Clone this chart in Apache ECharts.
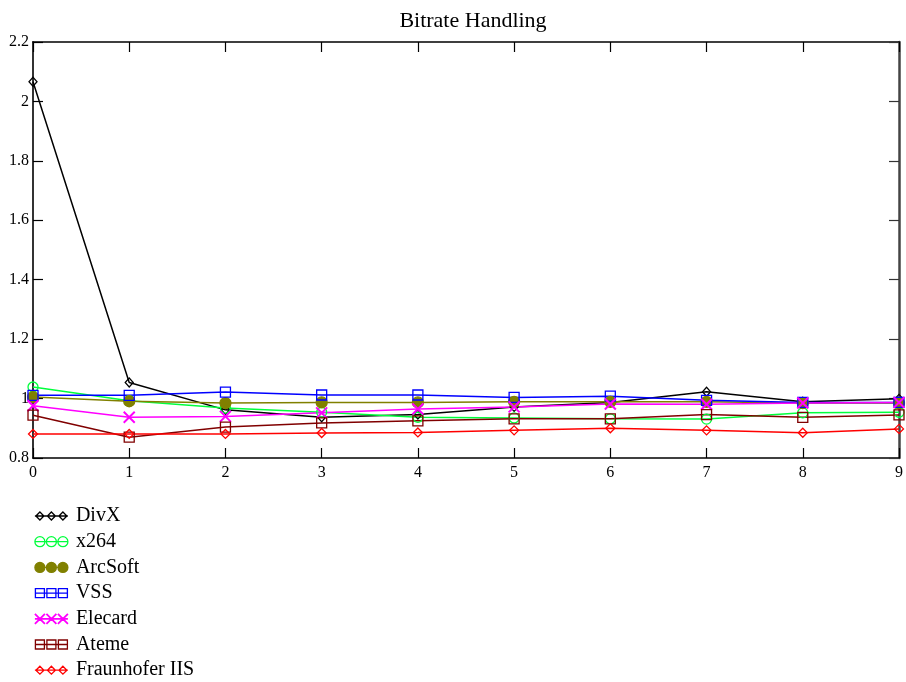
<!DOCTYPE html>
<html>
<head>
<meta charset="utf-8">
<script src="https://cdn.jsdelivr.net/npm/echarts@6/dist/echarts.min.js"></script>
<style>
html,body{margin:0;padding:0;background:#fff;}
#chart{width:906px;height:682px;}
</style>
</head>
<body>
<div id="chart"></div>
<script>
const titleText = 'Bitrate Handling';
const xValues = [0, 1, 2, 3, 4, 5, 6, 7, 8, 9];
const seriesNames = ['DivX', 'x264', 'ArcSoft', 'VSS', 'Elecard', 'Ateme', 'Fraunhofer IIS'];
const divx       = [2.066, 1.054, 0.962, 0.937, 0.946, 0.972, 0.987, 1.023, 0.989, 0.999];
const x264       = [1.039, 0.993, 0.968, 0.954, 0.937, 0.935, 0.932, 0.931, 0.952, 0.954];
const arcsoft    = [1.005, 0.991, 0.985, 0.987, 0.987, 0.989, 0.989, 0.989, 0.985, 0.985];
const vss        = [1.011, 1.011, 1.022, 1.012, 1.012, 1.004, 1.008, 0.994, 0.987, 0.987];
const elecard    = [0.976, 0.937, 0.940, 0.952, 0.965, 0.972, 0.982, 0.981, 0.985, 0.987];
const ateme      = [0.944, 0.870, 0.904, 0.918, 0.925, 0.932, 0.932, 0.946, 0.937, 0.945];
const fraunhofer = [0.881, 0.881, 0.881, 0.884, 0.886, 0.893, 0.900, 0.893, 0.885, 0.898];
const yTicks = [0.8, 1, 1.2, 1.4, 1.6, 1.8, 2, 2.2];

const allValues = [divx, x264, arcsoft, vss, elecard, ateme, fraunhofer];
const colors = ['#000000', '#00ff3c', '#808000', '#0000ff', '#ff00ff', '#800000', '#ff0000'];
const font = "'Liberation Serif','Times New Roman',serif";

// legend icon shapes (33 x 10 box)
function diamondPath(cx, hw, hh) { return `M${cx} ${5-hh} L${cx+hw} 5 L${cx} ${5+hh} L${cx-hw} 5 Z `; }
function circlePath(cx, r) { return `M${cx-r} 5 A${r} ${r} 0 1 0 ${cx+r} 5 A${r} ${r} 0 1 0 ${cx-r} 5 Z `; }
function squarePath(cx, h) { return `M${cx-h} ${5-h} L${cx+h} ${5-h} L${cx+h} ${5+h} L${cx-h} ${5+h} Z `; }
function crossPath(cx, h) { return `M${cx-h} ${5-h} L${cx+h} ${5+h} M${cx+h} ${5-h} L${cx-h} ${5+h} `; }
const centers = [5, 16.5, 28];
const line = 'M0 5 L33 5 ';
const legendIcons = [
  'path://' + line + centers.map(c => diamondPath(c, 4, 4)).join('') + 'M0 0 M0 10',
  'path://' + line + centers.map(c => circlePath(c, 5)).join(''),
  'path://' + line + centers.map(c => circlePath(c, 5)).join(''),
  'path://' + line + centers.map(c => squarePath(c, 4.5)).join('') + 'M0 0 M0 10',
  'path://' + line + centers.map(c => crossPath(c, 5)).join(''),
  'path://' + line + centers.map(c => squarePath(c, 4.5)).join('') + 'M0 0 M0 10',
  'path://' + line + centers.map(c => diamondPath(c, 4, 4)).join('') + 'M0 0 M0 10'
];
const symbols = [
  'diamond', 'circle', 'circle', 'rect',
  'path://M0 0 L10 10 M10 0 L0 10', 'rect', 'diamond'
];
const symbolSizes = [[8, 9], 10, 11, 10, 11, 10, [9, 9]];
const filled = [false, false, true, false, false, false, false];

const series = seriesNames.map((name, i) => ({
  name: name,
  type: 'line',
  data: xValues.map((x, j) => [x, allValues[i][j]]),
  symbol: symbols[i],
  symbolSize: symbolSizes[i],
  showAllSymbol: true,
  lineStyle: { color: colors[i], width: 1.5 },
  itemStyle: {
    color: filled[i] ? colors[i] : 'rgba(0,0,0,0)',
    borderColor: colors[i],
    borderWidth: i === 4 ? 2 : 1.3
  },
  emphasis: { disabled: true },
  animation: false
}));

const chart = echarts.init(document.getElementById('chart'), null, { renderer: 'canvas' });
chart.setOption({
  backgroundColor: '#fff',
  animation: false,
  title: {
    text: titleText,
    left: 468, top: 5, textAlign: 'center',
    textStyle: { fontFamily: font, fontSize: 22, fontWeight: 'normal', color: '#000' }
  },
  legend: {
    orient: 'vertical',
    left: 34, top: 506,
    height: 176,
    padding: 0,
    itemWidth: 33, itemHeight: 10,
    itemGap: 5.7,
    selectedMode: false,
    data: seriesNames.map((n, i) => ({
      name: n,
      icon: legendIcons[i],
      itemStyle: {
        color: filled[i] ? colors[i] : 'rgba(0,0,0,0)',
        borderColor: colors[i],
        borderWidth: i === 4 ? 1.8 : 1.3
      }
    })),
    textStyle: { fontFamily: font, fontSize: 20, color: '#000', lineHeight: 20, padding: [0, 0, 0, 3] }
  },
  grid: { left: 33, right: 5, top: 42, bottom: 224, containLabel: false },
  xAxis: [{
    type: 'value', min: 0, max: 9, interval: 1, position: 'bottom',
    axisLine: { show: true, onZero: false, lineStyle: { color: '#000', width: 1.5 } },
    axisTick: { show: true, inside: true, length: 10, lineStyle: { color: '#000', width: 1.2 } },
    axisLabel: { fontFamily: font, fontSize: 16, color: '#000', margin: 7 },
    splitLine: { show: false }
  }, {
    type: 'value', min: 0, max: 9, interval: 1, position: 'top',
    axisLine: { show: true, onZero: false, lineStyle: { color: '#000', width: 1.5 } },
    axisTick: { show: true, inside: true, length: 10, lineStyle: { color: '#000', width: 1.2 } },
    axisLabel: { show: false },
    splitLine: { show: false }
  }],
  yAxis: [{
    type: 'value', min: 0.8, max: 2.2, interval: 0.2, position: 'left',
    axisLine: { show: true, onZero: false, lineStyle: { color: '#333', width: 2 } },
    axisTick: { show: true, inside: true, length: 10, lineStyle: { color: '#000', width: 1.2 } },
    axisLabel: { fontFamily: font, fontSize: 16, color: '#000', margin: 4,
      formatter: v => { const r = Math.round(v * 10) / 10; return yTicks.indexOf(r) >= 0 ? String(r) : ''; } },
    splitLine: { show: false }
  }, {
    type: 'value', min: 0.8, max: 2.2, interval: 0.2, position: 'right',
    axisLine: { show: true, onZero: false, lineStyle: { color: '#444', width: 2.5 } },
    axisTick: { show: true, inside: true, length: 10, lineStyle: { color: '#333', width: 1.2 } },
    axisLabel: { show: false },
    splitLine: { show: false }
  }],
  series: series
});
</script>
</body>
</html>
